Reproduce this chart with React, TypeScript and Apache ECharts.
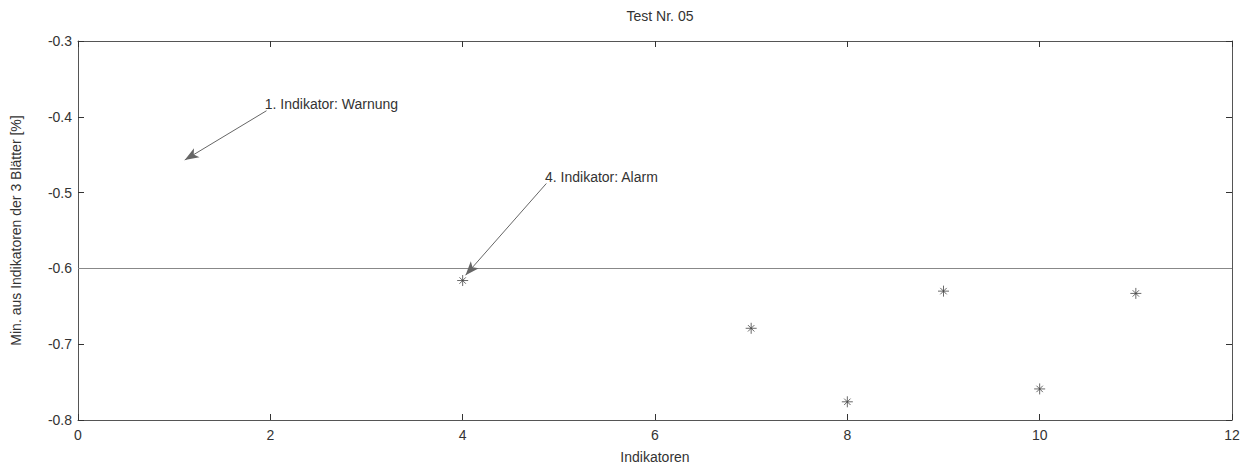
import React, { useEffect, useRef } from "react";
import * as echarts from "echarts";

const title = "Test Nr. 05";
const xName = "Indikatoren";
const yName = "Min. aus Indikatoren der 3 Blätter [%]";
const indicators = [4, 7, 8, 9, 10, 11];
const minValues = [-0.616, -0.679, -0.776, -0.63, -0.759, -0.633];
const thresholdValue = -0.6;
const xRange = [0, 12, 2];
const yRange = [-0.8, -0.3, 0.1];
const annotations = [
  { text: "1. Indikator: Warnung", from: [1.96, -0.392], to: [1.11, -0.457] },
  { text: "4. Indikator: Alarm", from: [4.87, -0.488], to: [4.03, -0.609] },
];

const FONT = "'Liberation Sans', Arial, sans-serif";
const GREY = "#555";
const TEXT = "#333";

export default function App() {
  const ref = useRef<HTMLDivElement>(null);
  useEffect(() => {
    if (!ref.current) return;
    const chart = echarts.init(ref.current, null, { renderer: "svg" });
    const mkTick = () => ({ show: true, inside: true, length: 6, lineStyle: { color: "#333", width: 1 } });
    const mkLine = () => ({ show: true, onZero: false, lineStyle: { color: GREY, width: 1 } });
    const xCommon = () => ({
      type: "value",
      min: xRange[0],
      max: xRange[1],
      interval: xRange[2],
      splitLine: { show: false },
      axisLine: mkLine(),
      axisTick: mkTick(),
    });
    const yCommon = () => ({
      type: "value",
      min: yRange[0],
      max: yRange[1],
      interval: yRange[2],
      splitLine: { show: false },
      axisLine: mkLine(),
      axisTick: mkTick(),
    });
    const star = "path://M0 -6 L0 6 M-6 0 L6 0 M-3.5 -3.5 L3.5 3.5 M-3.5 3.5 L3.5 -3.5";
    chart.setOption({
      animation: false,
      backgroundColor: "#fff",
      title: {
        text: title,
        left: 655,
        textAlign: "center",
        top: 4,
        textStyle: { fontFamily: FONT, fontSize: 14, fontWeight: "normal", color: TEXT },
      },
      grid: { left: 78, right: 22, top: 41, bottom: 50 },
      xAxis: [
        {
          ...xCommon(),
          position: "bottom",
          name: xName,
          nameLocation: "middle",
          nameGap: 30,
          nameTextStyle: { fontFamily: FONT, fontSize: 14, color: TEXT },
          axisLabel: { fontFamily: FONT, fontSize: 14, color: TEXT, margin: 8 },
        },
        { ...xCommon(), position: "top", axisLabel: { show: false } },
      ],
      yAxis: [
        {
          ...yCommon(),
          position: "left",
          name: yName,
          nameLocation: "middle",
          nameGap: 55,
          nameTextStyle: { fontFamily: FONT, fontSize: 14, color: TEXT },
          axisLabel: { fontFamily: FONT, fontSize: 14, color: TEXT, margin: 6 },
        },
        { ...yCommon(), position: "right", axisLabel: { show: false } },
      ],
      series: [
        {
          type: "scatter",
          data: indicators.map((x, i) => [x, minValues[i]]),
          symbol: star,
          symbolSize: 11,
          itemStyle: { color: "none", borderColor: "#444", borderWidth: 1 },
          markLine: {
            silent: true,
            symbol: ["none", "none"],
            label: { show: false },
            lineStyle: { color: "#888", width: 1, type: "solid" },
            data: [{ yAxis: thresholdValue }],
          },
        },
        {
          type: "line",
          data: [],
          markLine: {
            silent: true,
            symbol: ["none", "arrow"],
            symbolSize: [8, 14],
            lineStyle: { color: "#666", width: 1, type: "solid" },
            itemStyle: { color: "#111" },
            label: {
              show: true,
              position: "start",
              formatter: (p: any) => p.data.labelText ?? "",
              fontFamily: FONT,
              fontSize: 14,
              color: TEXT,
              align: "left",
              verticalAlign: "bottom",
              distance: [-2, 0],
            },
            data: annotations.map((a) => [
              { coord: a.from, labelText: a.text },
              { coord: a.to },
            ]),
          },
        },
      ],
    });
    return () => chart.dispose();
  }, []);
  return (
    <div
      ref={ref}
      style={{ position: "fixed", left: 0, top: 0, width: 1254, height: 470 }}
    />
  );
}
